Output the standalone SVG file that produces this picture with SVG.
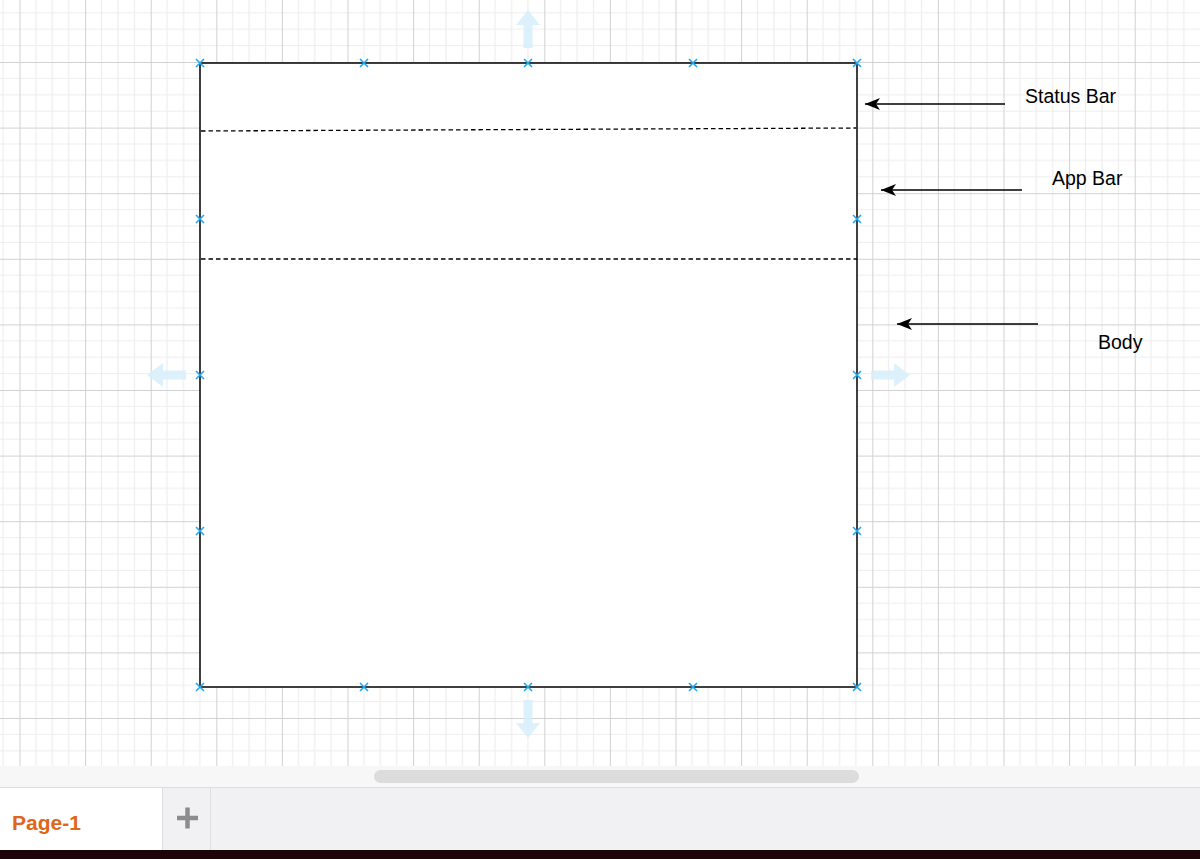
<svg xmlns="http://www.w3.org/2000/svg" width="1200" height="859" viewBox="0 0 1200 859">
<style>
.lbl{font-family:"Liberation Sans",Arial,sans-serif;font-size:19.5px;fill:#000}
.edge{stroke:#000;stroke-width:1.5;fill:none}
.dash{stroke:#000;stroke-width:1.3;stroke-dasharray:4.5 3;fill:none}
.hx{stroke:#1ea7f0;stroke-width:1.6;fill:none}
.ghost{fill:#d6eefb;opacity:0.85}
</style>
<defs>
<pattern id="grid" patternUnits="userSpaceOnUse" x="19.5" y="62" width="65.6" height="65.6">
<rect width="65.6" height="65.6" fill="#fff"/>
<path d="M16.4 0V65.6M32.8 0V65.6M49.2 0V65.6M0 16.4H65.6M0 32.8H65.6M0 49.2H65.6" stroke="#eeeeee" stroke-width="1.2"/>
<path d="M0.5 0V65.6M0 0.5H65.6" stroke="#d2d2d2" stroke-width="1"/>
</pattern>
<marker id="arr" markerUnits="userSpaceOnUse" markerWidth="18" markerHeight="14" refX="15" refY="7" orient="auto">
<path d="M0 1L15 7L0 13L4 7Z" fill="#000"/>
</marker>
<g id="x"><path class="hx" d="M-4 -4L4 4M-4 4L4 -4"/></g>
</defs>
<rect width="1200" height="766" fill="url(#grid)"/>
<g id="hover-arrows">
<path class="ghost" d="M523.5 48V25H516L528 10L540 25H532.5V48Z"/>
<path class="ghost" d="M523.5 700V723H516L528 738L540 723H532.5V700Z"/>
<path class="ghost" d="M186 370.5H163V363L147 375L163 387V379.5H186Z"/>
<path class="ghost" d="M871 370.5H894V363L910 375L894 387V379.5H871Z"/>
</g>
<g id="screen">
<rect x="200" y="63" width="657" height="624" fill="#fff" stroke="#000" stroke-width="1.5"/>
<path class="dash" d="M201 131L856 128"/>
<path class="dash" d="M201 259L857 259"/>
</g>
<g id="handles">
<use href="#x" x="200" y="63"/><use href="#x" x="364" y="63"/><use href="#x" x="528" y="63"/><use href="#x" x="693" y="63"/><use href="#x" x="857" y="63"/>
<use href="#x" x="200" y="687"/><use href="#x" x="364" y="687"/><use href="#x" x="528" y="687"/><use href="#x" x="693" y="687"/><use href="#x" x="857" y="687"/>
<use href="#x" x="200" y="219"/><use href="#x" x="200" y="375"/><use href="#x" x="200" y="531"/>
<use href="#x" x="857" y="219"/><use href="#x" x="857" y="375"/><use href="#x" x="857" y="531"/>
</g>
<g id="connectors">
<path class="edge" marker-end="url(#arr)" d="M1005 104H865"/>
<path class="edge" marker-end="url(#arr)" d="M1022 190H881"/>
<path class="edge" marker-end="url(#arr)" d="M1038 324H897"/>
</g>
<g id="label-status"><text class="lbl" x="1025" y="103">Status Bar</text></g>
<g id="label-appbar"><text class="lbl" x="1052" y="185">App Bar</text></g>
<g id="label-body"><text class="lbl" x="1098" y="349">Body</text></g>
<g id="footer">
<rect x="0" y="766" width="1200" height="22" fill="#f7f7f7"/>
<rect x="374" y="770" width="485" height="13" rx="6.5" fill="#dcdcdc"/>
<rect x="0" y="787" width="1200" height="63" fill="#f1f1f3"/>
<line x1="0" y1="787.5" x2="1200" y2="787.5" stroke="#dedede"/>
<rect x="0" y="788" width="162" height="62" fill="#fff"/>
<line x1="162.5" y1="788" x2="162.5" y2="850" stroke="#dedede"/>
<line x1="210.5" y1="788" x2="210.5" y2="850" stroke="#dedede"/>
<text x="12" y="830" style="font-family:'Liberation Sans',Arial,sans-serif;font-size:21px;font-weight:bold;fill:#e0661a">Page-1</text>
<path d="M177 818H198M187.5 807.5V828.5" stroke="#8c8c8c" stroke-width="4.5"/>
<rect x="0" y="850" width="1200" height="9" fill="#1c0508"/>
</g>
</svg>
